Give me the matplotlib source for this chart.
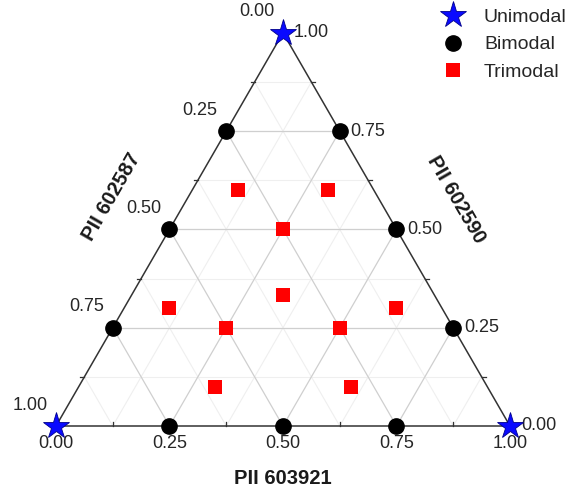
import matplotlib

matplotlib.use("Agg")

import matplotlib.pyplot as plt
import numpy as np

plt.rcParams["font.family"] = ["Liberation Sans", "DejaVu Sans"]

# ternary compositions: (PII 602587, PII 603921, PII 602590)
uni_587 = [1.0, 0.0, 0.0]
uni_921 = [0.0, 1.0, 0.0]
uni_590 = [0.0, 0.0, 1.0]

bi_587 = [0.75, 0.50, 0.25, 0.75, 0.50, 0.25, 0.00, 0.00, 0.00]
bi_921 = [0.25, 0.50, 0.75, 0.00, 0.00, 0.00, 0.75, 0.50, 0.25]
bi_590 = [0.00, 0.00, 0.00, 0.25, 0.50, 0.75, 0.25, 0.50, 0.75]

tri_587 = [0.50, 0.25, 0.25, 0.333, 0.30, 0.10, 0.60, 0.10, 0.60, 0.30]
tri_921 = [0.25, 0.50, 0.25, 0.333, 0.10, 0.30, 0.10, 0.60, 0.30, 0.60]
tri_590 = [0.25, 0.25, 0.50, 0.334, 0.60, 0.60, 0.30, 0.30, 0.10, 0.10]

tick_vals = [0.0, 0.25, 0.5, 0.75, 1.0]
tick_labels = ["0.00", "0.25", "0.50", "0.75", "1.00"]
minor_vals = [0.125, 0.375, 0.625, 0.875]

H = np.sqrt(3) / 2


def to_xy(left, bottom, right):
    left, bottom, right = (np.asarray(v, float) for v in (left, bottom, right))
    tot = left + bottom + right
    b, r = bottom / tot, right / tot
    return b + r / 2, r * H


fig = plt.figure(figsize=(5.74, 4.96), dpi=100)
ax = fig.add_axes([0, 0, 1, 1])
ax.set_xlim(-56 / 454, 518 / 454)
ax.set_ylim(-70 / 454, 426 / 454)
ax.set_aspect("equal")
ax.axis("off")

# grid lines (minor then major), three directions
for vals, col, lw in [(minor_vals, "#efefef", 0.8), (tick_vals[1:-1], "#cfcfcf", 0.9)]:
    for v in vals:
        # constant 590 (horizontal)
        x, y = to_xy([1 - v, 0], [0, 1 - v], [v, v])
        ax.plot(x, y, color=col, lw=lw, zorder=1)
        # constant 921
        x, y = to_xy([1 - v, 0], [v, v], [0, 1 - v])
        ax.plot(x, y, color=col, lw=lw, zorder=1)
        # constant 587
        x, y = to_xy([v, v], [1 - v, 0], [0, 1 - v])
        ax.plot(x, y, color=col, lw=lw, zorder=1)

# triangle frame
x, y = to_xy([1, 0, 0, 1], [0, 1, 0, 0], [0, 0, 1, 0])
ax.plot(x, y, color="#333333", lw=1.1, zorder=2)

# minor ticks along each edge
tl = 0.009
for v in minor_vals:
    x, y = to_xy(1 - v, v, 0)
    ax.plot([x, x], [y, y + tl], color="#333333", lw=0.9, zorder=2)
    x, y = to_xy(1 - v, 0, v)
    ax.plot([x, x - tl], [y, y], color="#333333", lw=0.9, zorder=2)
    x, y = to_xy(0, 1 - v, v)
    ax.plot([x, x + tl], [y, y], color="#333333", lw=0.9, zorder=2)

# tick labels
fs = 13
tc = "#262626"
for v, lab in zip(tick_vals, tick_labels):
    x, y = to_xy(1 - v, v, 0)
    ax.annotate(lab, (x, y), xytext=(0, -17), textcoords="offset pixels",
                ha="center", va="center", fontsize=fs, color=tc)
    x, y = to_xy(0, 1 - v, v)
    ax.annotate(lab, (x, y), xytext=(11, 0), textcoords="offset pixels",
                ha="left", va="center", fontsize=fs, color=tc)
    x, y = to_xy(v, 0, 1 - v)
    ax.annotate(lab, (x, y), xytext=(-26, 21), textcoords="offset pixels",
                ha="center", va="center", fontsize=fs, color=tc)

# axis titles
ax.annotate("PII 603921", (0.5, 0), xytext=(0, -52), textcoords="offset pixels",
            ha="center", va="center", fontsize=14.5, fontweight="bold", color="#1a1a1a")
x, y = to_xy(0.5, 0, 0.5)
ax.annotate("PII 602587", (x, y), xytext=(-58, 32), textcoords="offset pixels",
            ha="center", va="center", rotation=60, fontsize=14.5, fontweight="bold",
            color="#1a1a1a")
x, y = to_xy(0, 0.5, 0.5)
ax.annotate("PII 602590", (x, y), xytext=(60, 30), textcoords="offset pixels",
            ha="center", va="center", rotation=-60, fontsize=14.5, fontweight="bold",
            color="#1a1a1a")

# data points
x, y = to_xy(uni_587, uni_921, uni_590)
ax.plot(x, y, ls="none", marker="*", ms=20, color="#0a0aff", mec="#00008b", mew=0.6,
        zorder=5, clip_on=False, label="Unimodal")
x, y = to_xy(bi_587, bi_921, bi_590)
ax.plot(x, y, ls="none", marker="o", ms=11, color="black", zorder=5, label="Bimodal")
x, y = to_xy(tri_587, tri_921, tri_590)
ax.plot(x, y, ls="none", marker="s", ms=10, color="#ff0000", mew=0, zorder=5,
        label="Trimodal")

ax.legend(loc="upper left", bbox_to_anchor=(0.755, 0.983), bbox_transform=fig.transFigure,
          frameon=False, fontsize=14, borderpad=0, borderaxespad=0, handlelength=2.0,
          handletextpad=0.6, labelspacing=0.5, labelcolor="#262626")

fig.savefig("out.png", dpi=100)
